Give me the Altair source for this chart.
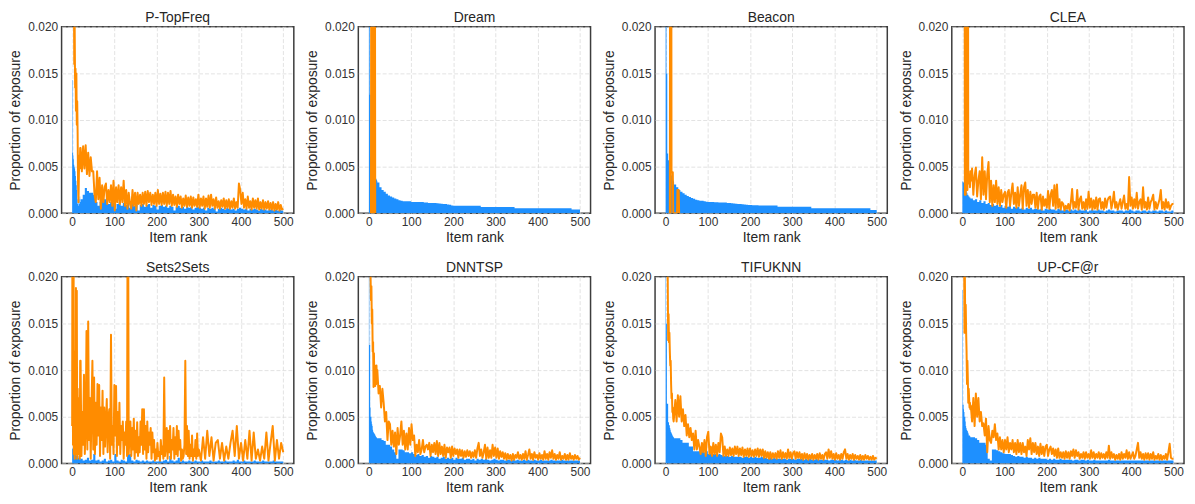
import altair as alt
import pandas as pd

# Blue series: every item for ranks 0-19, then every 5th item up to 500.
RANKS = list(range(20)) + list(range(20, 501, 5))
# Most orange series: every item for ranks 0-19, then every 3rd item up to 500.
FINE = list(range(20)) + list(range(20, 501, 3))
# Sets2Sets orange: every 2nd item between 20 and 298, every 5th after.
SS_RANKS = list(range(20)) + list(range(20, 300, 2)) + list(range(300, 501, 5))
UNIT = 1e-4  # all series below are given in units of 1e-4 (proportion of exposure)

TITLES = ["P-TopFreq", "Dream", "Beacon", "CLEA", "Sets2Sets", "DNNTSP", "TIFUKNN", "UP-CF@r"]
X_TICKS = [0, 100, 200, 300, 400, 500]
Y_TICKS = [0, 0.005, 0.010, 0.015, 0.020]

# ---------------- P-TopFreq ----------------
PT_BLUE = [
    143, 65, 62, 58, 52, 50, 48, 45, 40, 35, 30, 25, 15, 10, 12, 8, 15, 10, 18, 12,
    15, 20, 27, 24, 22, 22, 20, 12, 8, 12,
    14, 15, 16, 10, 12, 11, 5, 10, 12, 8,
    11, 9, 12, 6, 10, 8, 11, 3, 9, 10,
    7, 9, 10, 6, 9, 8, 4, 8, 9, 7,
    8, 6, 8, 7, 3, 7, 8, 6, 7, 5,
    7, 6, 7, 4, 6, 7, 6, 5, 6, 3,
    6, 5, 6, 5, 2, 5, 6, 5, 4, 6,
    5, 4, 5, 3, 5, 6, 5, 4, 5, 3,
    5, 4, 5, 4, 3, 5, 4, 4, 3, 4,
    4, 3, 4, 3, 4, 3, 3,
]
PT_ORANGE = [
    400, 350, 300, 260, 250, 160, 200, 135, 155, 110, 150, 95, 120, 85, 30, 12, 42, 62, 48, 70,
    70, 45, 72, 48, 73, 42, 65, 40, 60, 45,
    45, 20, 12, 45, 15, 38, 5, 30, 12, 28,
    32, 10, 25, 12, 30, 8, 35, 3, 28, 12,
    30, 10, 28, 12, 35, 8, 25, 5, 22, 10,
    5, 25, 8, 22, 3, 22, 10, 20, 8, 22,
    10, 23, 8, 24, 12, 22, 9, 20, 10, 22,
    8, 25, 10, 21, 9, 22, 10, 23, 8, 22,
    10, 24, 8, 20, 9, 18, 7, 20, 10, 18,
    6, 16, 8, 19, 7, 17, 8, 18, 6, 17,
    8, 15, 7, 20, 6, 16, 8, 18, 5, 16,
    7, 19, 6, 20, 8, 15, 5, 17, 6, 13,
    5, 14, 7, 16, 5, 14, 6, 15, 5, 13,
    6, 16, 5, 12, 6, 32, 25, 10, 22, 6,
    15, 5, 18, 6, 13, 4, 16, 6, 14, 5,
    16, 4, 12, 5, 14, 4, 12, 5, 13, 4,
    11, 4, 12, 3, 10, 4, 12, 3, 9, 4,
    5,
]

# ---------------- Dream ----------------
DR_BLUE = [
    400, 400, 127, 127, 60, 55, 52, 50, 48, 46, 44, 42, 41, 40, 39, 38, 37, 37, 36, 35,
    33, 28, 25, 23, 21, 19, 18, 17, 16, 15,
    14, 13.5, 13, 13, 13, 12.8, 12.2, 12, 12, 12,
    12, 12, 11.7, 11.5, 11, 11, 11, 11, 10.8, 10.5,
    10.3, 10, 10, 9.5, 9.2, 8.5, 8.2, 8.2, 8.2, 8.1,
    8.1, 8.1, 8.1, 8.1, 8.1, 8.1, 8.1, 8.1, 8.1, 6.8,
    6.8, 6.8, 6.8, 6.8, 6.8, 6.8, 6.8, 6.8, 6.8, 6.8,
    6.8, 6.8, 6.8, 6.8, 6.8, 5.3, 5.3, 5.3, 5.3, 5.3,
    5.3, 5.3, 5.3, 5.3, 5.3, 5.3, 5.3, 5.3, 5.3, 5.3,
    5.3, 5.3, 5.3, 5.3, 5.3, 5.3, 5.3, 5.3, 5.3, 5.3,
    5.3, 5.3, 4.2, 4.2, 4.2, 4.2, 4.2,
]
DR_ORANGE_RANKS = [5, 6, 7, 8, 9, 10, 11, 12, 13, 14, 15]
DR_ORANGE = [0, 500, 0, 500, 0, 500, 0, 500, 0, 500, 0]

# ---------------- Beacon ----------------
BE_BLUE = [
    400, 400, 150, 150, 64, 64, 57, 57, 48, 46, 44, 43, 42, 41, 40, 39, 38, 36, 35, 34,
    31, 28, 25, 23, 21.5, 20, 18.5, 17.5, 16.5, 15.5,
    14.5, 14, 13.5, 13.5, 13, 12.5, 12, 12, 12, 11.8,
    11.8, 11.7, 11.7, 11.7, 11.6, 11, 11, 10.8, 10.5, 10.2,
    10, 10, 9.8, 9.5, 9.3, 9, 8.8, 8.6, 8.6, 8.6,
    8.5, 8.5, 8.5, 8.5, 8.5, 8.5, 8.5, 8.5, 8.5, 7,
    7, 7, 7, 7, 7, 7, 7, 7, 7, 7,
    7, 7, 7, 7, 7, 5.3, 5.3, 5.3, 5.3, 5.3,
    5.3, 5.3, 5.3, 5.3, 5.3, 5.3, 5.3, 5.3, 5.3, 5.3,
    5.3, 5.3, 5.3, 5.3, 5.3, 5.3, 5.3, 5.3, 5.3, 5.3,
    5.3, 5.3, 5.3, 3.5, 3.5, 3.5, 3.5,
]
BE_ORANGE_RANKS = [10, 11, 12, 13, 14, 17, 18, 27, 28, 31, 32]
BE_ORANGE = [0, 500, 0, 500, 44, 44, 0, 0, 25, 25, 0]

# ---------------- CLEA ----------------
CL_BLUE = [
    34, 34, 33, 33, 32, 30, 28, 26, 25, 24, 22, 22, 20, 20, 19, 18, 18, 17, 16, 17,
    16, 14, 15, 12, 14, 11, 13, 10, 11, 9,
    10, 8, 9, 7, 9, 6, 8, 7, 8, 5,
    7, 6, 7, 5, 6, 4, 6, 5, 6, 4,
    5, 5, 4, 5, 3, 5, 4, 5, 4, 4,
    3, 5, 4, 3, 4, 4, 3, 4, 3, 4,
    3, 4, 3, 3, 4, 2, 3, 4, 3, 3,
    4, 3, 3, 2, 3, 4, 3, 3, 2, 3,
    3, 3, 2, 3, 3, 4, 3, 2, 3, 3,
    2, 3, 3, 2, 3, 2, 3, 3, 2, 3,
    3, 2, 3, 2, 2, 3, 2,
]
CL_ORANGE = [
    None, None, None, None, None, 500, 20, 500, 20, 500, 30, 500, 25, 500, 35, 40, 32, 42, 28, 45,
    35, 48, 20, 40, 49, 18, 35, 45, 15, 60,
    20, 45, 15, 42, 55, 12, 35, 8, 30, 12,
    35, 10, 28, 8, 25, 12, 20, 23, 6, 22,
    25, 8, 22, 32, 10, 22, 6, 28, 8, 20,
    30, 5, 28, 33, 8, 25, 6, 23, 10, 20,
    20, 6, 22, 5, 18, 20, 4, 18, 8, 15,
    6, 24, 5, 20, 25, 8, 30, 5, 31, 6,
    15, 4, 12, 10, 3, 8, 5, 10, 3, 12,
    26, 5, 12, 6, 25, 4, 15, 18, 5, 12,
    4, 15, 5, 23, 6, 16, 4, 14, 5, 17,
    4, 15, 16, 5, 12, 4, 16, 6, 14, 17,
    18, 5, 12, 23, 6, 12, 4, 10, 15, 5,
    12, 19, 5, 10, 4, 39, 8, 17, 5, 15,
    6, 22, 5, 12, 15, 4, 28, 6, 12, 4,
    17, 5, 12, 15, 20, 4, 12, 5, 10, 15,
    25, 5, 12, 4, 15, 6, 12, 4, 8, 10,
    10,
]

# ---------------- Sets2Sets ----------------
SS_BLUE = [
    16, 16, 15, 20, 30, 57, 57, 20, 10, 8, 15, 41, 41, 12, 8, 6, 5, 8, 4, 6,
    5, 3, 4, 6, 3, 4, 10, 3, 4, 2,
    3, 5, 2, 3, 4, 2, 10, 3, 2, 4,
    3, 2, 9, 10, 3, 2, 4, 3, 2, 3,
    2, 3, 2, 2, 3, 2, 2, 3, 2, 3,
    4, 2, 8, 3, 2, 3, 6, 2, 3, 2,
    2, 3, 2, 2, 3, 2, 2, 3, 2, 2,
    2, 3, 2, 2, 2, 3, 2, 2, 3, 2,
    2, 2, 3, 2, 4, 2, 2, 3, 2, 2,
    2, 2, 3, 2, 2, 2, 3, 2, 2, 2,
    2, 3, 2, 2, 2, 2, 2,
]
SS_ORANGE = [
    # ranks 0-19
    40, 400, 20, 400, 10, 60, 5, 120, 10, 188, 30, 185, 5, 80, 10, 70, 15, 50, 5, 110,
    # ranks 20-298, every 2nd item
    110, 8, 55, 20, 95, 10, 40, 142, 15, 152,
    25, 70, 5, 65, 110, 15, 92, 10, 65, 20,
    85, 30, 84, 8, 60, 25, 78, 10, 60, 18,
    45, 69, 12, 50, 58, 5, 138, 20, 40, 10,
    84, 30, 83, 8, 55, 20, 65, 10, 40, 25,
    45, 5, 33, 20, 45, 8, 400, 10, 30, 45,
    8, 38, 15, 48, 5, 35, 12, 44, 8, 28,
    12, 45, 20, 58, 10, 58, 15, 40, 5, 45,
    12, 33, 20, 38, 5, 33, 12, 25, 3, 15,
    5, 22, 8, 12, 3, 25, 10, 18, 5, 92,
    8, 20, 38, 5, 35, 12, 40, 5, 25, 15,
    38, 5, 28, 10, 40, 8, 35, 15, 25, 3,
    15, 5, 8, 20, 110, 10, 40, 8, 35, 5,
    20, 8, 30, 3, 15, 8, 25, 5, 32, 8,
    # ranks 300-500, every 5th item
    15, 3, 28, 5, 35, 8, 28, 3, 22, 25,
    5, 22, 3, 18, 5, 22, 35, 8, 40, 5,
    22, 3, 25, 5, 35, 3, 33, 5, 15, 3,
    18, 5, 33, 3, 22, 40, 3, 25, 5, 22,
    12,
]

# ---------------- DNNTSP ----------------
DN_BLUE = [
    400, 127, 127, 60, 50, 50, 45, 42, 40, 36, 34, 33, 32, 32, 31, 30, 29, 28, 28, 27,
    27, 27, 25, 24, 20, 20, 18, 15, 12, 5,
    15, 15, 14, 12, 12, 11, 12, 10, 9, 10,
    8, 9, 7, 8, 6, 8, 7, 6, 7, 5,
    6, 7, 5, 6, 5, 6, 4, 6, 5, 5,
    6, 4, 5, 5, 4, 5, 3, 5, 4, 5,
    4, 5, 4, 3, 4, 5, 4, 3, 4, 4,
    3, 4, 4, 3, 4, 3, 4, 3, 3, 4,
    3, 4, 3, 3, 4, 3, 3, 4, 3, 3,
    3, 3, 4, 3, 3, 3, 3, 4, 3, 3,
    3, 3, 3, 3, 3, 3, 3,
]
DN_ORANGE = [
    400, 300, 250, 220, 200, 175, 190, 150, 165, 120, 130, 82, 118, 84, 105, 83, 100, 85, 105, 88,
    100, 75, 83, 60, 80, 65, 45, 55, 25, 45,
    42, 20, 35, 18, 33, 10, 38, 20, 30, 45,
    20, 35, 15, 32, 15, 38, 20, 42, 25, 30,
    8, 20, 12, 25, 10, 15, 25, 12, 18, 20,
    15, 22, 8, 20, 12, 22, 10, 24, 8, 22,
    10, 18, 8, 20, 6, 17, 12, 17, 6, 18,
    8, 16, 10, 15, 6, 15, 8, 14, 6, 13,
    7, 14, 8, 13, 6, 12, 7, 14, 6, 16,
    22, 8, 15, 6, 12, 20, 5, 17, 6, 14,
    6, 20, 8, 17, 6, 16, 5, 13, 7, 12,
    5, 11, 4, 10, 5, 9, 3, 10, 4, 9,
    6, 12, 5, 9, 4, 10, 5, 13, 4, 9,
    15, 5, 10, 4, 12, 6, 9, 4, 11, 5,
    9, 4, 13, 5, 10, 4, 12, 6, 14, 5,
    10, 4, 9, 5, 12, 4, 8, 5, 10, 4,
    9, 4, 11, 5, 8, 4, 9, 5, 8, 4,
    6,
]

# ---------------- TIFUKNN ----------------
TI_BLUE = [
    400, 150, 150, 64, 64, 64, 44, 44, 41, 41, 38, 36, 34, 33, 32, 31, 30, 29, 28, 28,
    27, 27, 27, 25, 22, 22, 22, 18, 18, 13,
    13, 13, 13, 13, 12, 13, 10, 11, 10, 10,
    9, 10, 9, 8, 9, 8, 7, 8, 7, 7,
    7, 7, 6, 7, 7, 6, 7, 6, 7, 6,
    6, 7, 6, 6, 5, 6, 5, 6, 5, 5,
    5, 5, 5, 4, 5, 5, 5, 4, 5, 5,
    5, 4, 5, 4, 5, 4, 4, 5, 4, 4,
    4, 4, 4, 3, 4, 4, 4, 3, 4, 4,
    3, 4, 3, 4, 3, 4, 3, 3, 4, 3,
    3, 3, 3, 3, 3, 3, 3,
]
TI_ORANGE = [
    400, 400, 400, 300, 250, 200, 132, 160, 130, 140, 120, 105, 110, 85, 70, 75, 55, 60, 48, 45,
    50, 68, 45, 73, 50, 72, 45, 58, 40, 52,
    30, 42, 28, 38, 25, 32, 15, 35, 15, 25,
    18, 10, 22, 12, 25, 8, 28, 34, 10, 18,
    8, 22, 10, 20, 8, 22, 12, 32, 28, 8,
    18, 8, 15, 8, 17, 9, 16, 8, 18, 10,
    18, 8, 16, 9, 17, 7, 15, 8, 16, 7,
    16, 8, 14, 7, 15, 8, 16, 7, 15, 8,
    15, 6, 13, 6, 12, 5, 12, 5, 11, 6,
    11, 5, 13, 6, 14, 5, 12, 6, 11, 5,
    15, 6, 12, 5, 11, 13, 5, 12, 6, 12,
    5, 10, 4, 11, 5, 10, 4, 9, 5, 10,
    4, 9, 5, 10, 4, 11, 5, 9, 4, 10,
    12, 5, 15, 6, 13, 5, 10, 4, 11, 5,
    9, 4, 10, 5, 12, 15, 5, 10, 4, 9,
    5, 10, 4, 9, 5, 8, 4, 9, 4, 8,
    4, 9, 5, 8, 4, 7, 4, 8, 4, 6,
    5,
]

# ---------------- UP-CF@r ----------------
UP_BLUE = [
    186, 63, 63, 58, 55, 50, 50, 45, 40, 38, 36, 35, 35, 33, 32, 30, 30, 30, 29, 28,
    28, 28, 27, 25, 22, 22, 22, 20, 5, 3,
    15, 15, 14, 13, 12, 11, 10, 10, 10, 9,
    8, 7, 8, 7, 7, 6, 7, 6, 6, 5,
    6, 5, 6, 5, 5, 5, 4, 5, 4, 5,
    4, 4, 5, 4, 4, 4, 4, 4, 3, 4,
    4, 3, 4, 4, 3, 4, 3, 3, 4, 3,
    3, 3, 3, 3, 3, 4, 3, 3, 3, 3,
    3, 3, 3, 3, 3, 3, 3, 3, 3, 3,
    3, 3, 3, 3, 3, 3, 3, 3, 3, 3,
    3, 3, 3, 3, 3, 3, 3,
]
UP_ORANGE = [
    400, 400, 350, 300, 250, 140, 200, 140, 170, 140, 120, 85, 110, 90, 65, 80, 70, 60, 65, 58,
    62, 45, 70, 40, 75, 50, 70, 45, 55, 40,
    43, 30, 48, 12, 40, 25, 22, 35, 28, 42,
    25, 32, 15, 28, 15, 25, 12, 25, 15, 28,
    12, 22, 15, 25, 12, 22, 10, 25, 12, 22,
    10, 22, 12, 18, 8, 25, 15, 27, 10, 22,
    12, 22, 10, 18, 8, 21, 10, 18, 8, 18,
    20, 8, 15, 18, 10, 16, 8, 15, 6, 16,
    6, 12, 6, 12, 5, 13, 6, 12, 5, 13,
    8, 15, 6, 14, 8, 12, 5, 10, 6, 12,
    5, 12, 6, 10, 5, 14, 6, 12, 5, 10,
    6, 12, 5, 11, 6, 10, 5, 12, 6, 19,
    5, 12, 6, 10, 4, 9, 5, 10, 4, 12,
    5, 10, 6, 14, 5, 12, 5, 8, 12, 5,
    8, 15, 22, 6, 12, 5, 10, 4, 11, 5,
    11, 4, 10, 5, 12, 4, 8, 5, 10, 4,
    9, 4, 8, 5, 10, 4, 12, 21, 6, 5,
    5,
]

BLUE = "#1E90FF"
ORANGE = "#FF8C00"
FONT = "Liberation Sans"

PANELS = [
    (TITLES[0], RANKS, PT_BLUE, FINE, PT_ORANGE),
    (TITLES[1], RANKS, DR_BLUE, DR_ORANGE_RANKS, DR_ORANGE),
    (TITLES[2], RANKS, BE_BLUE, BE_ORANGE_RANKS, BE_ORANGE),
    (TITLES[3], RANKS, CL_BLUE, FINE, CL_ORANGE),
    (TITLES[4], RANKS, SS_BLUE, SS_RANKS, SS_ORANGE),
    (TITLES[5], RANKS, DN_BLUE, FINE, DN_ORANGE),
    (TITLES[6], RANKS, TI_BLUE, FINE, TI_ORANGE),
    (TITLES[7], RANKS, UP_BLUE, FINE, UP_ORANGE),
]


def make_panel(title, b_ranks, b_vals, o_ranks, o_vals):
    assert len(b_ranks) == len(b_vals), (title, len(b_ranks), len(b_vals))
    assert len(o_ranks) == len(o_vals), (title, len(o_ranks), len(o_vals))
    blue_df = pd.DataFrame({"rank": b_ranks, "value": [v * UNIT for v in b_vals]})
    orange_df = pd.DataFrame(
        {"rank": o_ranks, "value": [None if v is None else v * UNIT for v in o_vals]}
    ).dropna()

    x = alt.X(
        "rank:Q",
        scale=alt.Scale(domain=[-25, 525], nice=False, zero=False),
        axis=alt.Axis(values=X_TICKS, title="Item rank", format="d"),
    )
    y = alt.Y(
        "value:Q",
        scale=alt.Scale(domain=[0, 0.02], nice=False),
        axis=alt.Axis(values=Y_TICKS, format=".3f", title="Proportion of exposure"),
    )
    area = alt.Chart(blue_df).mark_area(
        interpolate="step-after", color=BLUE, clip=True
    ).encode(x=x, y=y)
    line = alt.Chart(orange_df).mark_line(
        color=ORANGE, strokeWidth=2, strokeJoin="round", clip=True
    ).encode(x="rank:Q", y="value:Q")
    return alt.layer(area, line).properties(width=234, height=188, title=title)


charts = [make_panel(*p) for p in PANELS]

chart = (
    alt.concat(*charts, columns=4, spacing={"row": 64, "column": 65}, bounds="flush")
    .properties(padding={"left": 0, "top": 0, "right": 2, "bottom": 2}, background="white")
    .configure_view(stroke="#3d3d3d", strokeWidth=1.5)
    .configure_axis(
        grid=True,
        gridColor="#dcdcdc",
        gridDash=[4, 2],
        gridWidth=0.8,
        domain=False,
        ticks=False,
        tickSize=0,
        labelFont=FONT,
        labelFontSize=12,
        labelColor="#333333",
        titleFont=FONT,
        titleFontSize=14,
        titleFontWeight="normal",
        titleColor="#262626",
    )
    .configure_axisX(labelPadding=3, titlePadding=3)
    .configure_axisY(labelPadding=4, titlePadding=5)
    .configure_title(font=FONT, fontSize=14, fontWeight="normal", color="#262626", offset=-4)
)

chart.save("out.html", embed_options={"renderer": "svg", "actions": False})
